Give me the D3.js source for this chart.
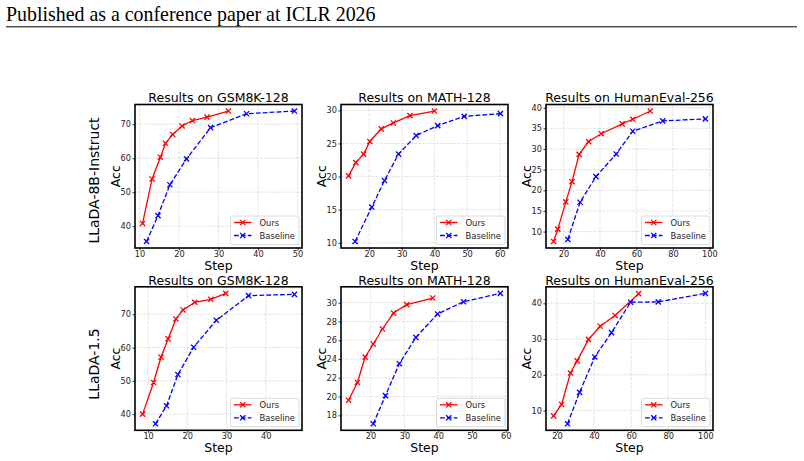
<!DOCTYPE html>
<html>
<head>
<meta charset="utf-8">
<script src="https://cdn.jsdelivr.net/npm/d3@7/dist/d3.min.js"></script>
<style>
  html, body { margin: 0; padding: 0; background: #fff; }
  svg { display: block; }
  text { font-family: "DejaVu Sans", sans-serif; }
</style>
</head>
<body>
<svg id="chart" width="804" height="461"></svg>
<script>
// ---------- DATA ----------
const headerText = "Published as a conference paper at ICLR 2026";
const rowLabels = ["LLaDA-8B-Instruct", "LLaDA-1.5"];
const panelTitles = ["Results on GSM8K-128", "Results on MATH-128", "Results on HumanEval-256"];
const seriesNames = ["Ours", "Baseline"];

// Row 1: LLaDA-8B-Instruct
const gsmInstructOursX = [10.8, 13.2, 15.3, 16.6, 18.4, 20.8, 23.4, 27.1, 32.5];
const gsmInstructOursY = [40.8, 53.9, 60.3, 64.4, 67.0, 69.5, 71.1, 72.1, 73.9];
const gsmInstructBaseX = [11.8, 14.7, 17.7, 21.9, 28.0, 37.1, 49.2];
const gsmInstructBaseY = [35.5, 43.1, 52.2, 59.8, 69.0, 73.1, 73.9];

const mathInstructOursX = [13.7, 15.9, 18.3, 20.2, 23.7, 27.4, 32.5, 40.0];
const mathInstructOursY = [20.1, 22.1, 23.4, 25.3, 27.2, 28.1, 29.2, 29.9];
const mathInstructBaseX = [15.7, 20.8, 24.7, 29.0, 34.4, 41.0, 49.1, 60.2];
const mathInstructBaseY = [10.2, 15.4, 19.4, 23.4, 26.2, 27.7, 29.1, 29.5];

const heInstructOursX = [14.6, 16.9, 21.3, 24.7, 28.6, 33.8, 40.7, 52.2, 58.0, 67.6];
const heInstructOursY = [7.6, 10.6, 17.2, 22.1, 28.7, 31.8, 33.7, 36.1, 37.2, 39.2];
const heInstructBaseX = [22.4, 29.1, 37.8, 48.9, 58.0, 74.4, 97.8];
const heInstructBaseY = [8.1, 17.1, 23.3, 28.8, 34.3, 36.8, 37.3];

// Row 2: LLaDA-1.5
const gsm15OursX = [8.6, 11.4, 13.3, 15.1, 17.1, 18.9, 21.9, 26.0, 29.8];
const gsm15OursY = [40.0, 49.5, 57.1, 62.6, 68.6, 71.3, 73.6, 74.5, 76.3];
const gsm15BaseX = [11.9, 14.7, 17.6, 21.6, 27.4, 35.6, 47.3];
const gsm15BaseY = [37.1, 42.5, 51.9, 60.1, 68.2, 75.6, 76.0];

const math15OursX = [13.5, 16.1, 18.4, 20.8, 23.5, 26.8, 30.7, 38.4];
const math15OursY = [19.6, 21.5, 24.2, 25.6, 27.2, 28.9, 29.8, 30.5];
const math15BaseX = [20.8, 24.4, 28.5, 33.4, 39.8, 47.5, 58.4];
const math15BaseY = [17.1, 20.1, 23.5, 26.3, 28.8, 30.1, 31.0];

const he15OursX = [18.2, 22.5, 27.3, 30.9, 37.0, 43.3, 51.3, 64.0];
const he15OursY = [8.5, 11.7, 20.5, 23.9, 29.9, 33.6, 36.6, 42.7];
const he15BaseX = [25.7, 32.2, 40.4, 49.4, 59.7, 74.6, 100.0];
const he15BaseY = [6.3, 15.1, 25.0, 31.8, 40.3, 40.4, 42.8];

// Tick values
const xTicksGsmInstruct = [10, 20, 30, 40, 50];
const yTicksGsmInstruct = [40, 50, 60, 70];
const xTicksMathInstruct = [20, 30, 40, 50, 60];
const yTicksMathInstruct = [10, 15, 20, 25, 30];
const xTicksHeInstruct = [20, 40, 60, 80, 100];
const yTicksHeInstruct = [10, 15, 20, 25, 30, 35, 40];
const xTicksGsm15 = [10, 20, 30, 40];
const yTicksGsm15 = [40, 50, 60, 70];
const xTicksMath15 = [20, 30, 40, 50, 60];
const yTicksMath15 = [18, 20, 22, 24, 26, 28, 30];
const xTicksHe15 = [20, 40, 60, 80, 100];
const yTicksHe15 = [10, 20, 30, 40];

// ---------- PANELS ----------
const panels = [
  { row: 0, col: 0, ox: gsmInstructOursX, oy: gsmInstructOursY, bx: gsmInstructBaseX, by: gsmInstructBaseY, xt: xTicksGsmInstruct, yt: yTicksGsmInstruct },
  { row: 0, col: 1, ox: mathInstructOursX, oy: mathInstructOursY, bx: mathInstructBaseX, by: mathInstructBaseY, xt: xTicksMathInstruct, yt: yTicksMathInstruct },
  { row: 0, col: 2, ox: heInstructOursX, oy: heInstructOursY, bx: heInstructBaseX, by: heInstructBaseY, xt: xTicksHeInstruct, yt: yTicksHeInstruct },
  { row: 1, col: 0, ox: gsm15OursX, oy: gsm15OursY, bx: gsm15BaseX, by: gsm15BaseY, xt: xTicksGsm15, yt: yTicksGsm15 },
  { row: 1, col: 1, ox: math15OursX, oy: math15OursY, bx: math15BaseX, by: math15BaseY, xt: xTicksMath15, yt: yTicksMath15 },
  { row: 1, col: 2, ox: he15OursX, oy: he15OursY, bx: he15BaseX, by: he15BaseY, xt: xTicksHe15, yt: yTicksHe15 },
];

// ---------- LAYOUT ----------
const colLeft = [135, 341, 546];
const rowTop = [104.5, 286.8];
const axW = 167, axH = 143.5;
const colors = { ours: "#ff0000", base: "#0000ff" };
const tickFont = 8.2, labelFont = 12.5, legendFont = 8.4;

const svg = d3.select("#chart");

// Header
svg.append("text")
  .attr("x", 6).attr("y", 20.5)
  .style("font-family", "'Liberation Serif', 'Times New Roman', serif")
  .style("font-size", "19.9px")
  .attr("fill", "#000")
  .text(headerText);
svg.append("line")
  .attr("x1", 6).attr("x2", 797).attr("y1", 26.8).attr("y2", 26.8)
  .attr("stroke", "#000").attr("stroke-width", 1);

function padDomain(vals) {
  const [lo, hi] = d3.extent(vals);
  const m = (hi - lo) * 0.05;
  return [lo - m, hi + m];
}

function xMarker(g, x, y, color, s) {
  g.append("path")
    .attr("d", `M${x - s},${y - s}L${x + s},${y + s}M${x - s},${y + s}L${x + s},${y - s}`)
    .attr("stroke", color).attr("stroke-width", 1.3).attr("fill", "none");
}

panels.forEach(p => {
  const left = colLeft[p.col], top = rowTop[p.row];
  const g = svg.append("g").attr("transform", `translate(${left},${top})`);
  const x = d3.scaleLinear().domain(padDomain(p.ox.concat(p.bx))).range([0, axW]);
  const y = d3.scaleLinear().domain(padDomain(p.oy.concat(p.by))).range([axH, 0]);

  // grid
  const grid = g.append("g");
  p.xt.forEach(t => {
    grid.append("line").attr("x1", x(t)).attr("x2", x(t)).attr("y1", 0).attr("y2", axH)
      .attr("stroke", "#b0b0b0").attr("stroke-opacity", 0.45).attr("stroke-width", 0.8)
      .attr("stroke-dasharray", "3,1.3");
  });
  p.yt.forEach(t => {
    grid.append("line").attr("x1", 0).attr("x2", axW).attr("y1", y(t)).attr("y2", y(t))
      .attr("stroke", "#b0b0b0").attr("stroke-opacity", 0.45).attr("stroke-width", 0.8)
      .attr("stroke-dasharray", "3,1.3");
  });

  // axes
  const xAxis = d3.axisBottom(x).tickValues(p.xt).tickSize(2.5).tickPadding(0.2).tickFormat(d3.format("d"));
  const yAxis = d3.axisLeft(y).tickValues(p.yt).tickSize(2.5).tickPadding(1.5).tickFormat(d3.format("d"));
  const gx = g.append("g").attr("transform", `translate(0,${axH})`).call(xAxis);
  const gy = g.append("g").call(yAxis);
  [gx, gy].forEach(a => {
    a.select(".domain").remove();
    a.selectAll(".tick line").attr("stroke", "#000").attr("stroke-width", 0.8);
    a.selectAll(".tick text").style("font-family", "'DejaVu Sans', sans-serif")
      .style("font-size", tickFont + "px").attr("fill", "#222");
  });

  // lines
  const line = d3.line().x(d => x(d[0])).y(d => y(d[1]));
  const oursPts = p.ox.map((v, i) => [v, p.oy[i]]);
  const basePts = p.bx.map((v, i) => [v, p.by[i]]);
  g.append("path").datum(basePts).attr("d", line).attr("fill", "none")
    .attr("stroke", colors.base).attr("stroke-width", 1.3).attr("stroke-dasharray", "4.8,2.1");
  g.append("path").datum(oursPts).attr("d", line).attr("fill", "none")
    .attr("stroke", colors.ours).attr("stroke-width", 1.3);
  basePts.forEach(d => xMarker(g, x(d[0]), y(d[1]), colors.base, 2.6));
  oursPts.forEach(d => xMarker(g, x(d[0]), y(d[1]), colors.ours, 2.6));

  // frame
  g.append("rect").attr("x", 0).attr("y", 0).attr("width", axW).attr("height", axH)
    .attr("fill", "none").attr("stroke", "#000").attr("stroke-width", 1.6);

  // title and labels
  g.append("text").attr("x", axW / 2).attr("y", -2.3).attr("text-anchor", "middle")
    .style("font-size", labelFont + "px").attr("fill", "#000").text(panelTitles[p.col]);
  g.append("text").attr("x", axW / 2).attr("y", axH + 21.8).attr("text-anchor", "middle")
    .style("font-size", labelFont + "px").attr("fill", "#000").text("Step");
  g.append("text").attr("transform", `translate(-15,${axH / 2}) rotate(-90)`)
    .attr("text-anchor", "middle")
    .style("font-size", labelFont + "px").attr("fill", "#000").text("Acc");

  // legend
  const lw = 68.5, lh = 28.5;
  const lg = g.append("g").attr("transform", `translate(${axW - 3 - lw},${axH - 3.5 - lh})`);
  lg.append("rect").attr("width", lw).attr("height", lh).attr("rx", 2).attr("ry", 2)
    .attr("fill", "#fff").attr("fill-opacity", 0.8).attr("stroke", "#d0d0d0").attr("stroke-width", 0.8);
  const entries = [
    { name: seriesNames[0], color: colors.ours, dash: null },
    { name: seriesNames[1], color: colors.base, dash: "4.8,2.1" }
  ];
  entries.forEach((e, i) => {
    const cy = 6.5 + i * 13;
    lg.append("line").attr("x1", 3.5).attr("x2", 21).attr("y1", cy).attr("y2", cy)
      .attr("stroke", e.color).attr("stroke-width", 1.3).attr("stroke-dasharray", e.dash);
    xMarker(lg, 12.25, cy, e.color, 2.6);
    lg.append("text").attr("x", 29).attr("y", cy + 3).style("font-size", legendFont + "px")
      .attr("fill", "#222").text(e.name);
  });
});

// Row labels
rowLabels.forEach((lab, r) => {
  const cy = r === 0 ? 180.5 : 364;
  svg.append("text").attr("transform", `translate(99,${cy}) rotate(-90)`)
    .attr("text-anchor", "middle").style("font-size", "14px").attr("fill", "#000").text(lab);
});
</script>
</body>
</html>
